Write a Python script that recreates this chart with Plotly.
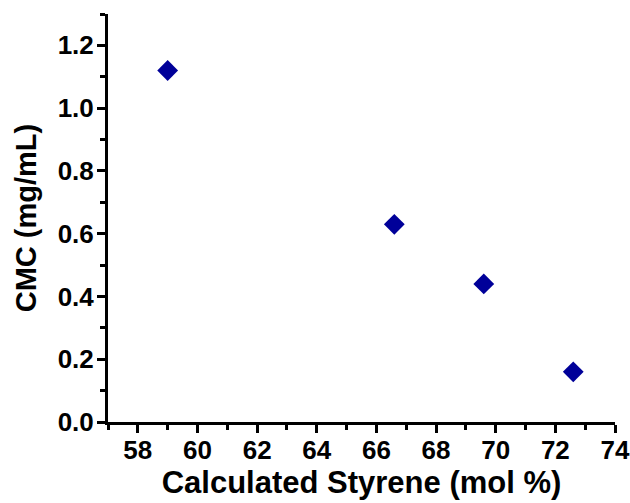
import plotly.graph_objects as go

styrene = [59.0, 66.6, 69.6, 72.6]
cmc = [1.12, 0.63, 0.44, 0.16]
x_ticks = [58, 60, 62, 64, 66, 68, 70, 72, 74]
y_ticks = [0.0, 0.2, 0.4, 0.6, 0.8, 1.0, 1.2]

font_family = "Liberation Sans, Arial, sans-serif"

fig = go.Figure()
fig.add_trace(go.Scatter(
    x=styrene, y=cmc, mode="markers",
    marker=dict(symbol="diamond", size=16, color="#000099", line=dict(width=0)),
    showlegend=False,
))

axis_common = dict(
    showline=True, linewidth=3, linecolor="black",
    ticks="outside", ticklen=8, tickwidth=3, tickcolor="black",
    showgrid=False, zeroline=False, mirror=False, automargin=False,
)

fig.update_xaxes(
    range=[57, 74], tickmode="array", tickvals=x_ticks,
    ticktext=[str(v) for v in x_ticks],
    tickfont=dict(family=font_family, size=26, color="black", weight="bold"),
    ticklabelstandoff=-5,
    title=dict(text="Calculated Styrene (mol %)", standoff=3,
               font=dict(family=font_family, size=31, color="black", weight="bold")),
    minor=dict(dtick=1, ticks="outside", ticklen=5, tickwidth=3, tickcolor="black", showgrid=False),
    **axis_common,
)
fig.update_yaxes(
    range=[0, 1.3], tickmode="array", tickvals=y_ticks,
    ticktext=[f"{v:.1f}" for v in y_ticks],
    tickfont=dict(family=font_family, size=26, color="black", weight="bold"),
    ticklabelstandoff=-2,
    title=dict(text="CMC (mg/mL)", standoff=13,
               font=dict(family=font_family, size=29, color="black", weight="bold")),
    minor=dict(dtick=0.1, ticks="outside", ticklen=5, tickwidth=3, tickcolor="black", showgrid=False),
    **axis_common,
)

fig.update_layout(
    width=630, height=503,
    margin=dict(l=108, r=15, t=14, b=81),
    plot_bgcolor="white", paper_bgcolor="white",
)

fig.write_html("out.html")
